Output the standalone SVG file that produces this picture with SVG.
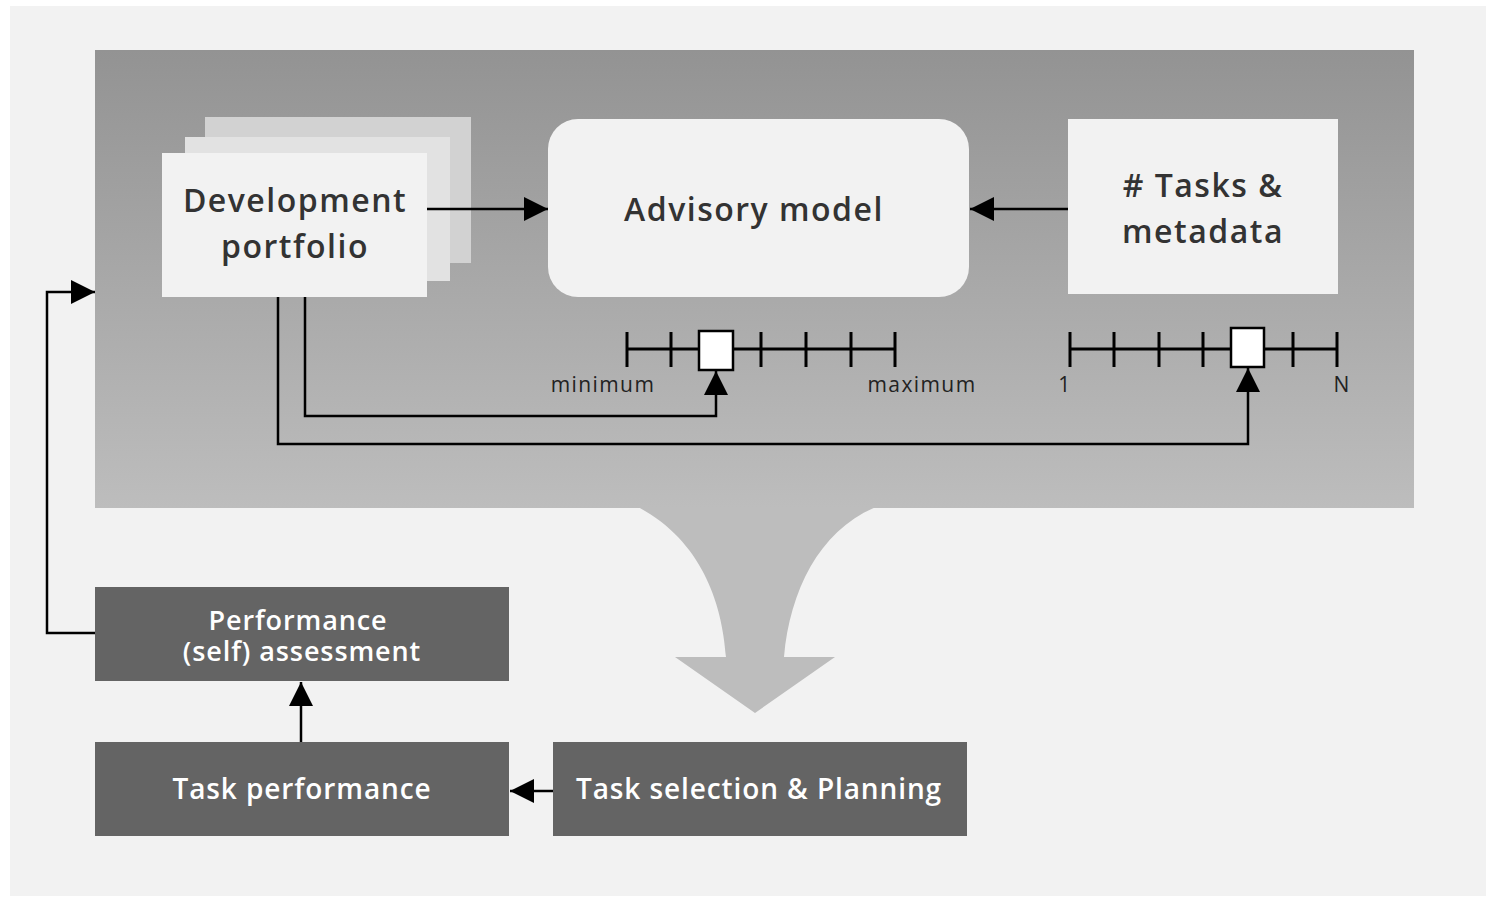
<svg xmlns="http://www.w3.org/2000/svg" width="1486" height="898" viewBox="0 0 1486 898">
<defs>
<linearGradient id="pg" x1="0" y1="0" x2="0" y2="1">
<stop offset="0" stop-color="#939393"/>
<stop offset="1" stop-color="#bdbdbd"/>
</linearGradient>
<marker id="ahb" viewBox="0 0 10 10" refX="10" refY="5" markerWidth="24" markerHeight="24" markerUnits="userSpaceOnUse" orient="auto">
<path d="M0,0 L10,5 L0,10 Z" fill="#000"/>
</marker>
</defs>
<style>
.lt{font-family:"Open Sans","Noto Sans","Liberation Sans",sans-serif;fill:#333;text-anchor:middle;font-weight:600;letter-spacing:1.5px}
.dk{font-family:"Open Sans","Noto Sans","Liberation Sans",sans-serif;fill:#fff;text-anchor:middle;font-weight:600;letter-spacing:0.9px}
.sm{font-family:"Open Sans","Noto Sans","Liberation Sans",sans-serif;fill:#222;font-size:21px;text-anchor:middle;font-weight:500;letter-spacing:1.4px}
.ln{fill:none;stroke:#000;stroke-width:2.5}
.tk{stroke:#000;stroke-width:3}
.db{fill:#646464}
</style>
<rect x="0" y="0" width="1486" height="898" fill="#fff"/>
<rect x="10" y="6" width="1476" height="890" fill="#f2f2f2"/>
<g id="panel">
<rect x="95" y="50" width="1319" height="458" fill="url(#pg)"/>
<path d="M638,507 C700,540 722,600 726,657 L675,657 L755,713 L835,657 L784,657 C790,590 820,530 876,507 Z" fill="#bdbdbd"/>
</g>
<g id="development-portfolio">
<rect x="205" y="117" width="266" height="146" fill="#d2d2d2"/>
<rect x="185" y="137" width="265" height="144" fill="#e2e2e2"/>
<rect x="162" y="153" width="265" height="144" fill="#f2f2f2"/>
<text x="295" y="212" class="lt" font-size="32">Development</text>
<text x="295" y="258" class="lt" font-size="32">portfolio</text>
</g>
<g id="advisory-model">
<rect x="548" y="119" width="421" height="178" rx="30" fill="#f2f2f2"/>
<text x="754" y="221" class="lt" font-size="32">Advisory model</text>
</g>
<g id="tasks-metadata">
<rect x="1068" y="119" width="270" height="175" fill="#f2f2f2"/>
<text x="1203" y="197" class="lt" font-size="32"># Tasks &amp;</text>
<text x="1203" y="243" class="lt" font-size="32">metadata</text>
</g>
<g id="scale-min-max">
<line x1="627" y1="349" x2="895" y2="349" class="tk"/>
<line x1="627" y1="332" x2="627" y2="367" class="tk"/>
<line x1="671" y1="332" x2="671" y2="367" class="tk"/>
<line x1="761" y1="332" x2="761" y2="367" class="tk"/>
<line x1="806" y1="332" x2="806" y2="367" class="tk"/>
<line x1="851" y1="332" x2="851" y2="367" class="tk"/>
<line x1="895" y1="332" x2="895" y2="367" class="tk"/>
<rect x="699" y="331" width="34" height="39" fill="#fff" stroke="#000" stroke-width="2.5"/>
<text x="603" y="392" class="sm">minimum</text>
<text x="922" y="392" class="sm">maximum</text>
</g>
<g id="scale-1-n">
<line x1="1070" y1="349" x2="1337" y2="349" class="tk"/>
<line x1="1070" y1="332" x2="1070" y2="367" class="tk"/>
<line x1="1114" y1="332" x2="1114" y2="367" class="tk"/>
<line x1="1159" y1="332" x2="1159" y2="367" class="tk"/>
<line x1="1203" y1="332" x2="1203" y2="367" class="tk"/>
<line x1="1293" y1="332" x2="1293" y2="367" class="tk"/>
<line x1="1337" y1="332" x2="1337" y2="367" class="tk"/>
<rect x="1231" y="328" width="33" height="39" fill="#fff" stroke="#000" stroke-width="2.5"/>
<text x="1065" y="392" class="sm">1</text>
<text x="1342" y="392" class="sm">N</text>
</g>
<g id="performance-assessment">
<rect x="95" y="587" width="414" height="94" class="db"/>
<text x="298" y="630" class="dk" font-size="27">Performance</text>
<text x="302" y="661" class="dk" font-size="27">(self) assessment</text>
</g>
<g id="task-performance">
<rect x="95" y="742" width="414" height="94" class="db"/>
<text x="302" y="799" class="dk" font-size="28">Task performance</text>
</g>
<g id="task-selection">
<rect x="553" y="742" width="414" height="94" class="db"/>
<text x="759" y="799" class="dk" font-size="28">Task selection &amp; Planning</text>
</g>
<g id="connectors">
<line x1="427" y1="209" x2="548" y2="209" class="ln" marker-end="url(#ahb)"/>
<line x1="1068" y1="209" x2="970" y2="209" class="ln" marker-end="url(#ahb)"/>
<polyline points="305,297 305,416 716,416 716,371" class="ln" marker-end="url(#ahb)"/>
<polyline points="278,297 278,444 1248,444 1248,368" class="ln" marker-end="url(#ahb)"/>
<polyline points="95,633 47,633 47,292 95,292" class="ln" marker-end="url(#ahb)"/>
<line x1="301" y1="742" x2="301" y2="682" class="ln" marker-end="url(#ahb)"/>
<line x1="553" y1="791" x2="510" y2="791" class="ln" marker-end="url(#ahb)"/>
</g>
</svg>
